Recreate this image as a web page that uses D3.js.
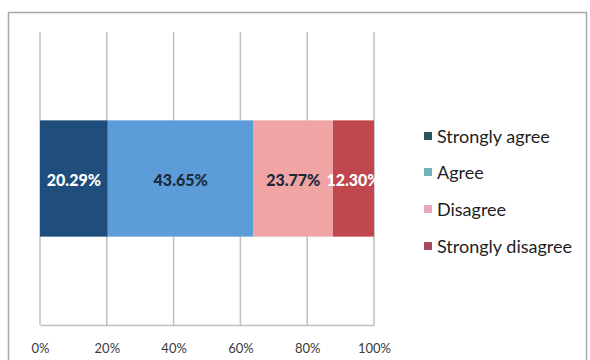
<!DOCTYPE html>
<html>
<head>
<meta charset="utf-8">
<script src="https://cdn.jsdelivr.net/npm/d3@7"></script>
<style>
  html, body { margin: 0; padding: 0; background: #ffffff; }
  svg { display: block; }
</style>
</head>
<body>
<svg id="chart" width="590" height="360"></svg>
<script>
// Survey response shares (percent)
const categories = ["Strongly agree", "Agree", "Disagree", "Strongly disagree"];
const values = [20.29, 43.65, 23.77, 12.30];
const tickValues = [0, 20, 40, 60, 80, 100];
const barColors = ["#1f4e7c", "#5c9cd8", "#f0a5a4", "#c0474d"];
const legendColors = ["#2b5662", "#72b1b9", "#e8a9b8", "#a94b5f"];
const labelColors = ["#ffffff", "#1b2a3c", "#1b2a3c", "#ffffff"];

const font = "Lato, 'Open Sans', sans-serif";
const svg = d3.select("#chart");

// outer chart frame
svg.append("rect")
  .attr("x", 8.5).attr("y", 12.5)
  .attr("width", 578).attr("height", 360)
  .attr("fill", "#ffffff")
  .attr("stroke", "#a8a8a8").attr("stroke-width", 1.5);

const plot = { left: 40, right: 374, top: 32, bottom: 325 };

const x = d3.scaleLinear().domain([0, 100]).range([plot.left, plot.right]);
const y = d3.scaleBand().domain(["row"]).range([plot.top, plot.bottom]).paddingInner(0).paddingOuter(0.76);

// vertical gridlines
svg.append("g")
  .selectAll("line")
  .data(tickValues)
  .join("line")
  .attr("x1", d => x(d)).attr("x2", d => x(d))
  .attr("y1", plot.top).attr("y2", plot.bottom)
  .attr("stroke", "#c0c0c0").attr("stroke-width", 1.5);

// bottom axis
const axis = d3.axisBottom(x).tickValues(tickValues).tickSize(0).tickFormat(d => d + "%");
const gAxis = svg.append("g").attr("transform", `translate(0,${plot.bottom})`).call(axis);
gAxis.select(".domain").attr("stroke", "#c0c0c0").attr("stroke-width", 1.5);
gAxis.selectAll("text")
  .attr("dy", 0).attr("y", 28)
  .attr("font-family", font).attr("font-size", 13).attr("fill", "#3a3a3a");

// stacked segments
const stackData = [];
let acc = 0;
values.forEach((v, i) => { stackData.push({ cat: categories[i], v, x0: acc, x1: acc + v, i }); acc += v; });

const bandY = y("row");
const bandH = y.bandwidth();

svg.append("g")
  .selectAll("rect")
  .data(stackData)
  .join("rect")
  .attr("x", d => x(d.x0))
  .attr("y", bandY)
  .attr("width", d => x(d.x1) - x(d.x0))
  .attr("height", bandH)
  .attr("fill", d => barColors[d.i]);

svg.append("g")
  .selectAll("text")
  .data(stackData)
  .join("text")
  .attr("x", d => (x(d.x0) + x(d.x1)) / 2)
  .attr("y", bandY + bandH / 2 + 2)
  .attr("dy", "0.35em")
  .attr("text-anchor", "middle")
  .attr("font-family", font).attr("font-weight", "900").attr("font-size", 16)
  .attr("fill", d => labelColors[d.i])
  .text(d => d.v.toFixed(2) + "%");

// legend
const legend = svg.append("g").attr("transform", "translate(424,0)");
const rowY = [137, 173, 210, 247];
const lg = legend.selectAll("g")
  .data(categories)
  .join("g")
  .attr("transform", (d, i) => `translate(0,${rowY[i]})`);
lg.append("rect")
  .attr("x", 0).attr("y", -5).attr("width", 8).attr("height", 8)
  .attr("fill", (d, i) => legendColors[i]);
lg.append("text")
  .attr("x", 13).attr("y", 0).attr("dy", "0.35em")
  .attr("font-family", font).attr("font-size", 18).attr("fill", "#1e1e1e")
  .text(d => d);
</script>
</body>
</html>
